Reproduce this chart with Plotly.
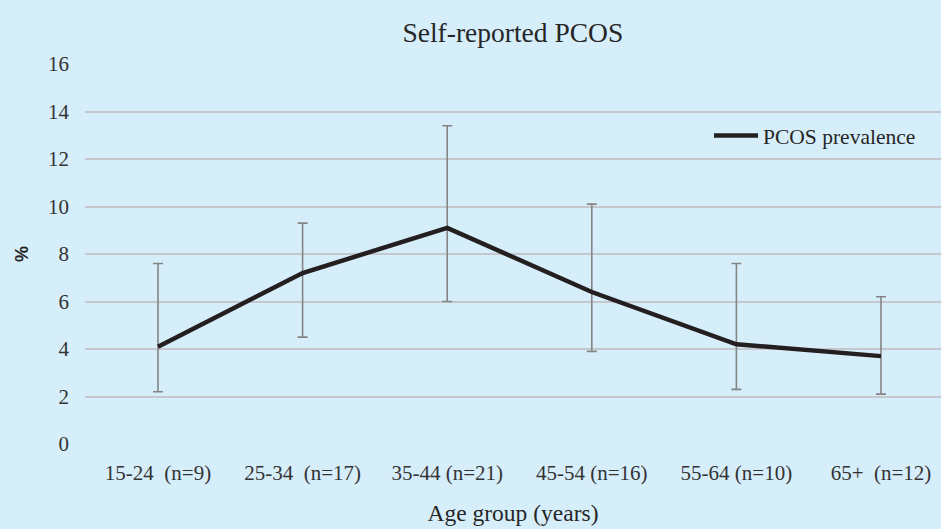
import plotly.graph_objects as go

categories = ["15-24\u00a0 (n=9)", "25-34\u00a0 (n=17)", "35-44 (n=21)", "45-54 (n=16)", "55-64 (n=10)", "65+\u00a0 (n=12)"]
prevalence = [4.1, 7.2, 9.1, 6.4, 4.2, 3.7]
upper = [7.6, 9.3, 13.4, 10.1, 7.6, 6.2]
lower = [2.2, 4.5, 6.0, 3.9, 2.3, 2.1]
yticks = [0, 2, 4, 6, 8, 10, 12, 14, 16]

err_plus = [u - p for u, p in zip(upper, prevalence)]
err_minus = [p - l for p, l in zip(prevalence, lower)]

bg = "#D6EEFA"
font_serif = "Liberation Serif"

fig = go.Figure()
fig.add_trace(go.Scatter(
    x=list(range(len(categories))), y=prevalence, mode="lines",
    name="PCOS prevalence",
    line=dict(color="#231F20", width=4.5),
    error_y=dict(type="data", symmetric=False, array=err_plus, arrayminus=err_minus,
                 color="#858585", thickness=1.6, width=5),
))

fig.update_layout(
    width=941, height=529,
    paper_bgcolor=bg, plot_bgcolor=bg,
    margin=dict(l=85, r=0, t=64, b=85),
    font=dict(family=font_serif, size=21, color="#333333"),
    title=dict(text="Self-reported PCOS", x=0.545, xanchor="center", y=0.938, yanchor="middle",
               font=dict(family=font_serif, size=27.5, color="#262626")),
    showlegend=True,
    legend=dict(x=0.729, y=0.812, xanchor="left", yanchor="middle", bgcolor="rgba(0,0,0,0)",
                font=dict(family=font_serif, size=21.5, color="#262626"), itemwidth=44),
    xaxis=dict(tickmode="array", tickvals=list(range(len(categories))), ticktext=categories,
               range=[-0.505, 5.415], showgrid=False, zeroline=False, showline=False,
               ticks="", ticklabelstandoff=14,
               tickfont=dict(family=font_serif, size=21, color="#333333"),
               title=dict(text="Age group (years)", standoff=20,
                          font=dict(family=font_serif, size=23.5, color="#262626"))),
    yaxis=dict(range=[0, 16], tickvals=yticks, showgrid=True, gridcolor="#C4C8CC", gridwidth=1.5,
               zeroline=False, showline=False, ticks="", ticklabelstandoff=15,
               tickfont=dict(family=font_serif, size=21, color="#333333")),
    annotations=[dict(text="<b>%</b>", xref="paper", yref="paper", x=0, y=0.5, xshift=-63,
                      xanchor="center", yanchor="middle",
                      showarrow=False, textangle=-90,
                      font=dict(family="Liberation Sans", size=18, color="#262626"))],
)

fig.write_html("out.html", config={"displayModeBar": False},
               post_script="document.body.style.margin='0';")
